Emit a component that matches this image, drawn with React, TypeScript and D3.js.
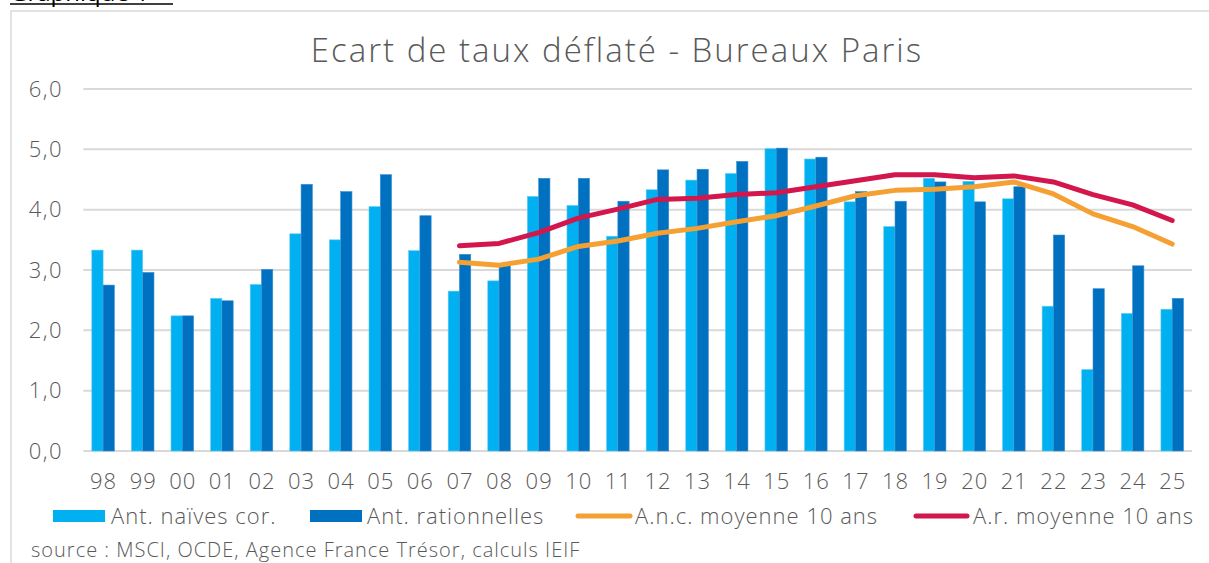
import React from 'react';
import * as d3 from 'd3';

const W = 1209;
const H = 563;

const years = ['98', '99', '00', '01', '02', '03', '04', '05', '06', '07', '08', '09', '10', '11',
  '12', '13', '14', '15', '16', '17', '18', '19', '20', '21', '22', '23', '24', '25'];

const naives = [3.33, 3.33, 2.24, 2.53, 2.76, 3.6, 3.5, 4.05, 3.32, 2.65, 2.82, 4.22, 4.07, 3.56,
  4.33, 4.49, 4.6, 5.01, 4.84, 4.13, 3.72, 4.52, 4.47, 4.18, 2.4, 1.35, 2.28, 2.35];

const rationnelles = [2.75, 2.96, 2.24, 2.49, 3.01, 4.42, 4.3, 4.58, 3.9, 3.26, 3.07, 4.52, 4.52, 4.14,
  4.66, 4.67, 4.8, 5.02, 4.87, 4.3, 4.14, 4.46, 4.13, 4.38, 3.58, 2.69, 3.07, 2.53];

// moving averages only exist from 07 onward
const ancMoy = [null, null, null, null, null, null, null, null, null, 3.13, 3.08, 3.18, 3.39, 3.48,
  3.61, 3.69, 3.8, 3.9, 4.06, 4.23, 4.32, 4.34, 4.38, 4.46, 4.26, 3.93, 3.72, 3.43];

const arMoy = [null, null, null, null, null, null, null, null, null, 3.4, 3.44, 3.62, 3.86, 4.01,
  4.17, 4.19, 4.25, 4.28, 4.38, 4.48, 4.58, 4.58, 4.53, 4.56, 4.46, 4.25, 4.08, 3.82];

const yTicks = [0, 1, 2, 3, 4, 5, 6];

const LIGHT = '#00B0F0';
const DARK = '#0070C0';
const ORANGE = '#F5A033';
const RED = '#D3164B';
const TXT = '#595959';
const GRID = '#D9D9D9';
const FONT = '"Open Sans", Lato, sans-serif';

const fmt = (v: number) => v.toFixed(1).replace('.', ',');

export default function App() {
  const margin = { left: 83.3, right: 1192, top: 89, bottom: 451 };

  const x = d3.scaleBand<string>()
    .domain(years)
    .range([margin.left, margin.right])
    .paddingInner(0.43)
    .paddingOuter(0.215);

  const x1 = d3.scaleBand<string>()
    .domain(['naives', 'rationnelles'])
    .range([0, x.bandwidth()]);

  const y = d3.scaleLinear().domain([0, 6]).range([margin.bottom, margin.top]);

  const cx = (i: number) => (x(years[i]) ?? 0) + x.bandwidth() / 2;

  const line = d3.line<number | null>()
    .defined(d => d !== null)
    .x((_, i) => cx(i))
    .y(d => y(d as number));

  const legendY = 516;
  const lg = { fontSize: 22, fill: TXT, letterSpacing: 1, dy: '0.35em' };

  return (
    <div style={{ position: 'absolute', left: 0, top: 0 }}>
      <svg width={W} height={H} style={{ display: 'block', background: '#fff' }}
        fontFamily={FONT} fontWeight={300}>
        {/* caption cut at the top */}
        <text x={10} y={1} fontSize={24} fill="#000" fontWeight={400}>Graphique 1</text>
        <line x1={10} x2={173} y1={4} y2={4} stroke="#000" strokeWidth={1.5} />

        {/* chart frame */}
        <rect x={11} y={11} width={W + 20} height={H + 20} fill="none" stroke={GRID} strokeWidth={1.5} />

        <text x={617} y={62} textAnchor="middle" fontSize={33} letterSpacing={2} fill={TXT}>
          Ecart de taux déflaté - Bureaux Paris
        </text>

        {/* grid + y labels */}
        {yTicks.map(t => (
          <g key={t}>
            <line x1={margin.left} x2={margin.right} y1={y(t)} y2={y(t)} stroke={GRID} strokeWidth={2} />
            <text x={63} y={y(t)} dy="0.35em" textAnchor="end" fontSize={22} letterSpacing={1.5} fill={TXT}>{fmt(t)}</text>
          </g>
        ))}

        {/* bars */}
        {years.map((yr, i) => (
          <g key={yr} transform={`translate(${x(yr)},0)`}>
            <rect x={x1('naives')} y={y(naives[i])} width={x1.bandwidth()}
              height={y(0) - y(naives[i])} fill={LIGHT} stroke="#5fcdf5" strokeWidth={0.6} />
            <rect x={x1('rationnelles')} y={y(rationnelles[i])} width={x1.bandwidth()}
              height={y(0) - y(rationnelles[i])} fill={DARK} stroke="#3a8fd0" strokeWidth={0.6} />
          </g>
        ))}

        {/* x labels */}
        {years.map((yr, i) => (
          <text key={yr} x={cx(i) + 0.5} y={481} dy="0.35em" textAnchor="middle" fontSize={22}
            letterSpacing={1} fill={TXT}>{yr}</text>
        ))}

        {/* moving averages */}
        <path d={line(ancMoy) ?? ''} fill="none" stroke={ORANGE} strokeWidth={5}
          strokeLinecap="round" strokeLinejoin="round" />
        <path d={line(arMoy) ?? ''} fill="none" stroke={RED} strokeWidth={5}
          strokeLinecap="round" strokeLinejoin="round" />

        {/* legend */}
        <rect x={53} y={legendY - 6} width={52} height={12} fill={LIGHT} />
        <text x={111} y={legendY} {...lg}>Ant. naïves cor.</text>
        <rect x={310} y={legendY - 6} width={52} height={12} fill={DARK} />
        <text x={367} y={legendY} {...lg}>Ant. rationnelles</text>
        <line x1={578} x2={630} y1={legendY} y2={legendY} stroke={ORANGE} strokeWidth={5} strokeLinecap="round" />
        <text x={635} y={legendY} {...lg}>A.n.c. moyenne 10 ans</text>
        <line x1={916} x2={967} y1={legendY} y2={legendY} stroke={RED} strokeWidth={5} strokeLinecap="round" />
        <text x={973} y={legendY} {...lg}>A.r. moyenne 10 ans</text>

        <text x={31} y={550} dy="0.35em" fontSize={20} letterSpacing={1} fill={TXT}>
          source : MSCI, OCDE, Agence France Trésor, calculs IEIF
        </text>
      </svg>
    </div>
  );
}
